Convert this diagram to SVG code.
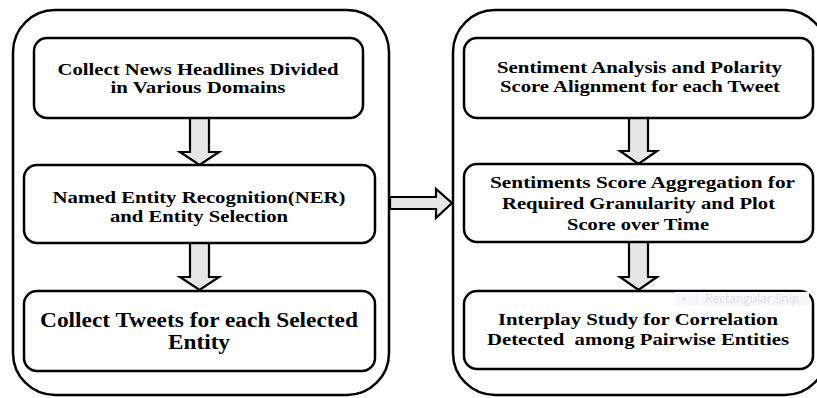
<svg xmlns="http://www.w3.org/2000/svg" width="817" height="398" viewBox="0 0 817 398">
<style>
.cont{fill:none;stroke:#000;stroke-width:2.5}
.box{fill:#fff;stroke:#000;stroke-width:2.5}
.arr{fill:#e6e6e6;stroke:#000;stroke-width:2.2;stroke-linejoin:miter}
.t{font-family:"Times New Roman","Liberation Serif",Tinos,serif;font-weight:bold;font-size:17px;fill:#000;text-anchor:middle}
.tb{font-size:20px}
.snip{font-family:"Open Sans","Noto Sans",sans-serif;font-size:12px;fill:#dde2e8}
</style>
<rect width="817" height="398" fill="#fff"/>
<g id="left-container"><rect class="cont" x="13" y="10" width="376" height="385" rx="42"/></g>
<g id="right-container"><rect class="cont" x="453" y="10" width="374" height="385" rx="42"/></g>

<g id="connectors">
<polygon class="arr" points="190,118 209,118 209,152 219,152 199.5,165 180,152 190,152"/>
<polygon class="arr" points="190,243 209,243 209,277 219,277 199.5,290 180,277 190,277"/>
<polygon class="arr" points="629,118 648,118 648,151 657,151 638.5,164 620,151 629,151"/>
<polygon class="arr" points="629,242 648,242 648,277 657,277 638.5,290 620,277 629,277"/>
<polygon class="arr" points="390,197 436,197 436,189 452,203 436,218 436,209 390,209"/>
</g>

<g id="n1">
<rect class="box" x="34" y="38" width="329" height="80" rx="13"/>
<text class="t" x="198" y="75" textLength="281" lengthAdjust="spacingAndGlyphs">Collect News Headlines Divided</text>
<text class="t" x="198" y="93" textLength="175" lengthAdjust="spacingAndGlyphs">in Various Domains</text>
</g>
<g id="n2">
<rect class="box" x="24" y="165" width="351" height="78" rx="13"/>
<text class="t" x="199" y="203" textLength="293" lengthAdjust="spacingAndGlyphs">Named Entity Recognition(NER)</text>
<text class="t" x="199" y="222" textLength="178" lengthAdjust="spacingAndGlyphs">and Entity Selection</text>
</g>
<g id="n3">
<rect class="box" x="24" y="291" width="351" height="80" rx="13"/>
<text class="t tb" x="199" y="327" textLength="318" lengthAdjust="spacingAndGlyphs">Collect Tweets for each Selected</text>
<text class="t tb" x="199" y="349" textLength="62" lengthAdjust="spacingAndGlyphs">Entity</text>
</g>

<g id="n4">
<rect class="box" x="464" y="38" width="349" height="80" rx="13"/>
<text class="t" x="639.5" y="73" textLength="285" lengthAdjust="spacingAndGlyphs">Sentiment Analysis and Polarity</text>
<text class="t" x="640" y="92" textLength="280" lengthAdjust="spacingAndGlyphs">Score Alignment for each Tweet</text>
</g>
<g id="n5">
<rect class="box" x="464" y="164" width="349" height="78" rx="13"/>
<text class="t" x="642.5" y="188" textLength="305" lengthAdjust="spacingAndGlyphs">Sentiments Score Aggregation for</text>
<text class="t" x="638.5" y="209" textLength="273" lengthAdjust="spacingAndGlyphs">Required Granularity and Plot</text>
<text class="t" x="638" y="230" textLength="142" lengthAdjust="spacingAndGlyphs">Score over Time</text>
</g>
<g id="n6">
<rect class="box" x="464" y="291" width="349" height="78" rx="13"/>
<rect x="675" y="292" width="134" height="14" fill="#f6f8fa"/>
<line x1="697" y1="292" x2="697" y2="306" stroke="#eef1f4" stroke-width="1"/>
<circle cx="684" cy="299" r="2" fill="#e3e7eb"/>
<text class="snip" x="705" y="303">Rectangular Snip</text>
<text class="t" x="638" y="325" textLength="280" lengthAdjust="spacingAndGlyphs">Interplay Study for Correlation</text>
<text class="t" x="638" y="345" textLength="302" lengthAdjust="spacingAndGlyphs" xml:space="preserve">Detected  among Pairwise Entities</text>
</g>
</svg>
